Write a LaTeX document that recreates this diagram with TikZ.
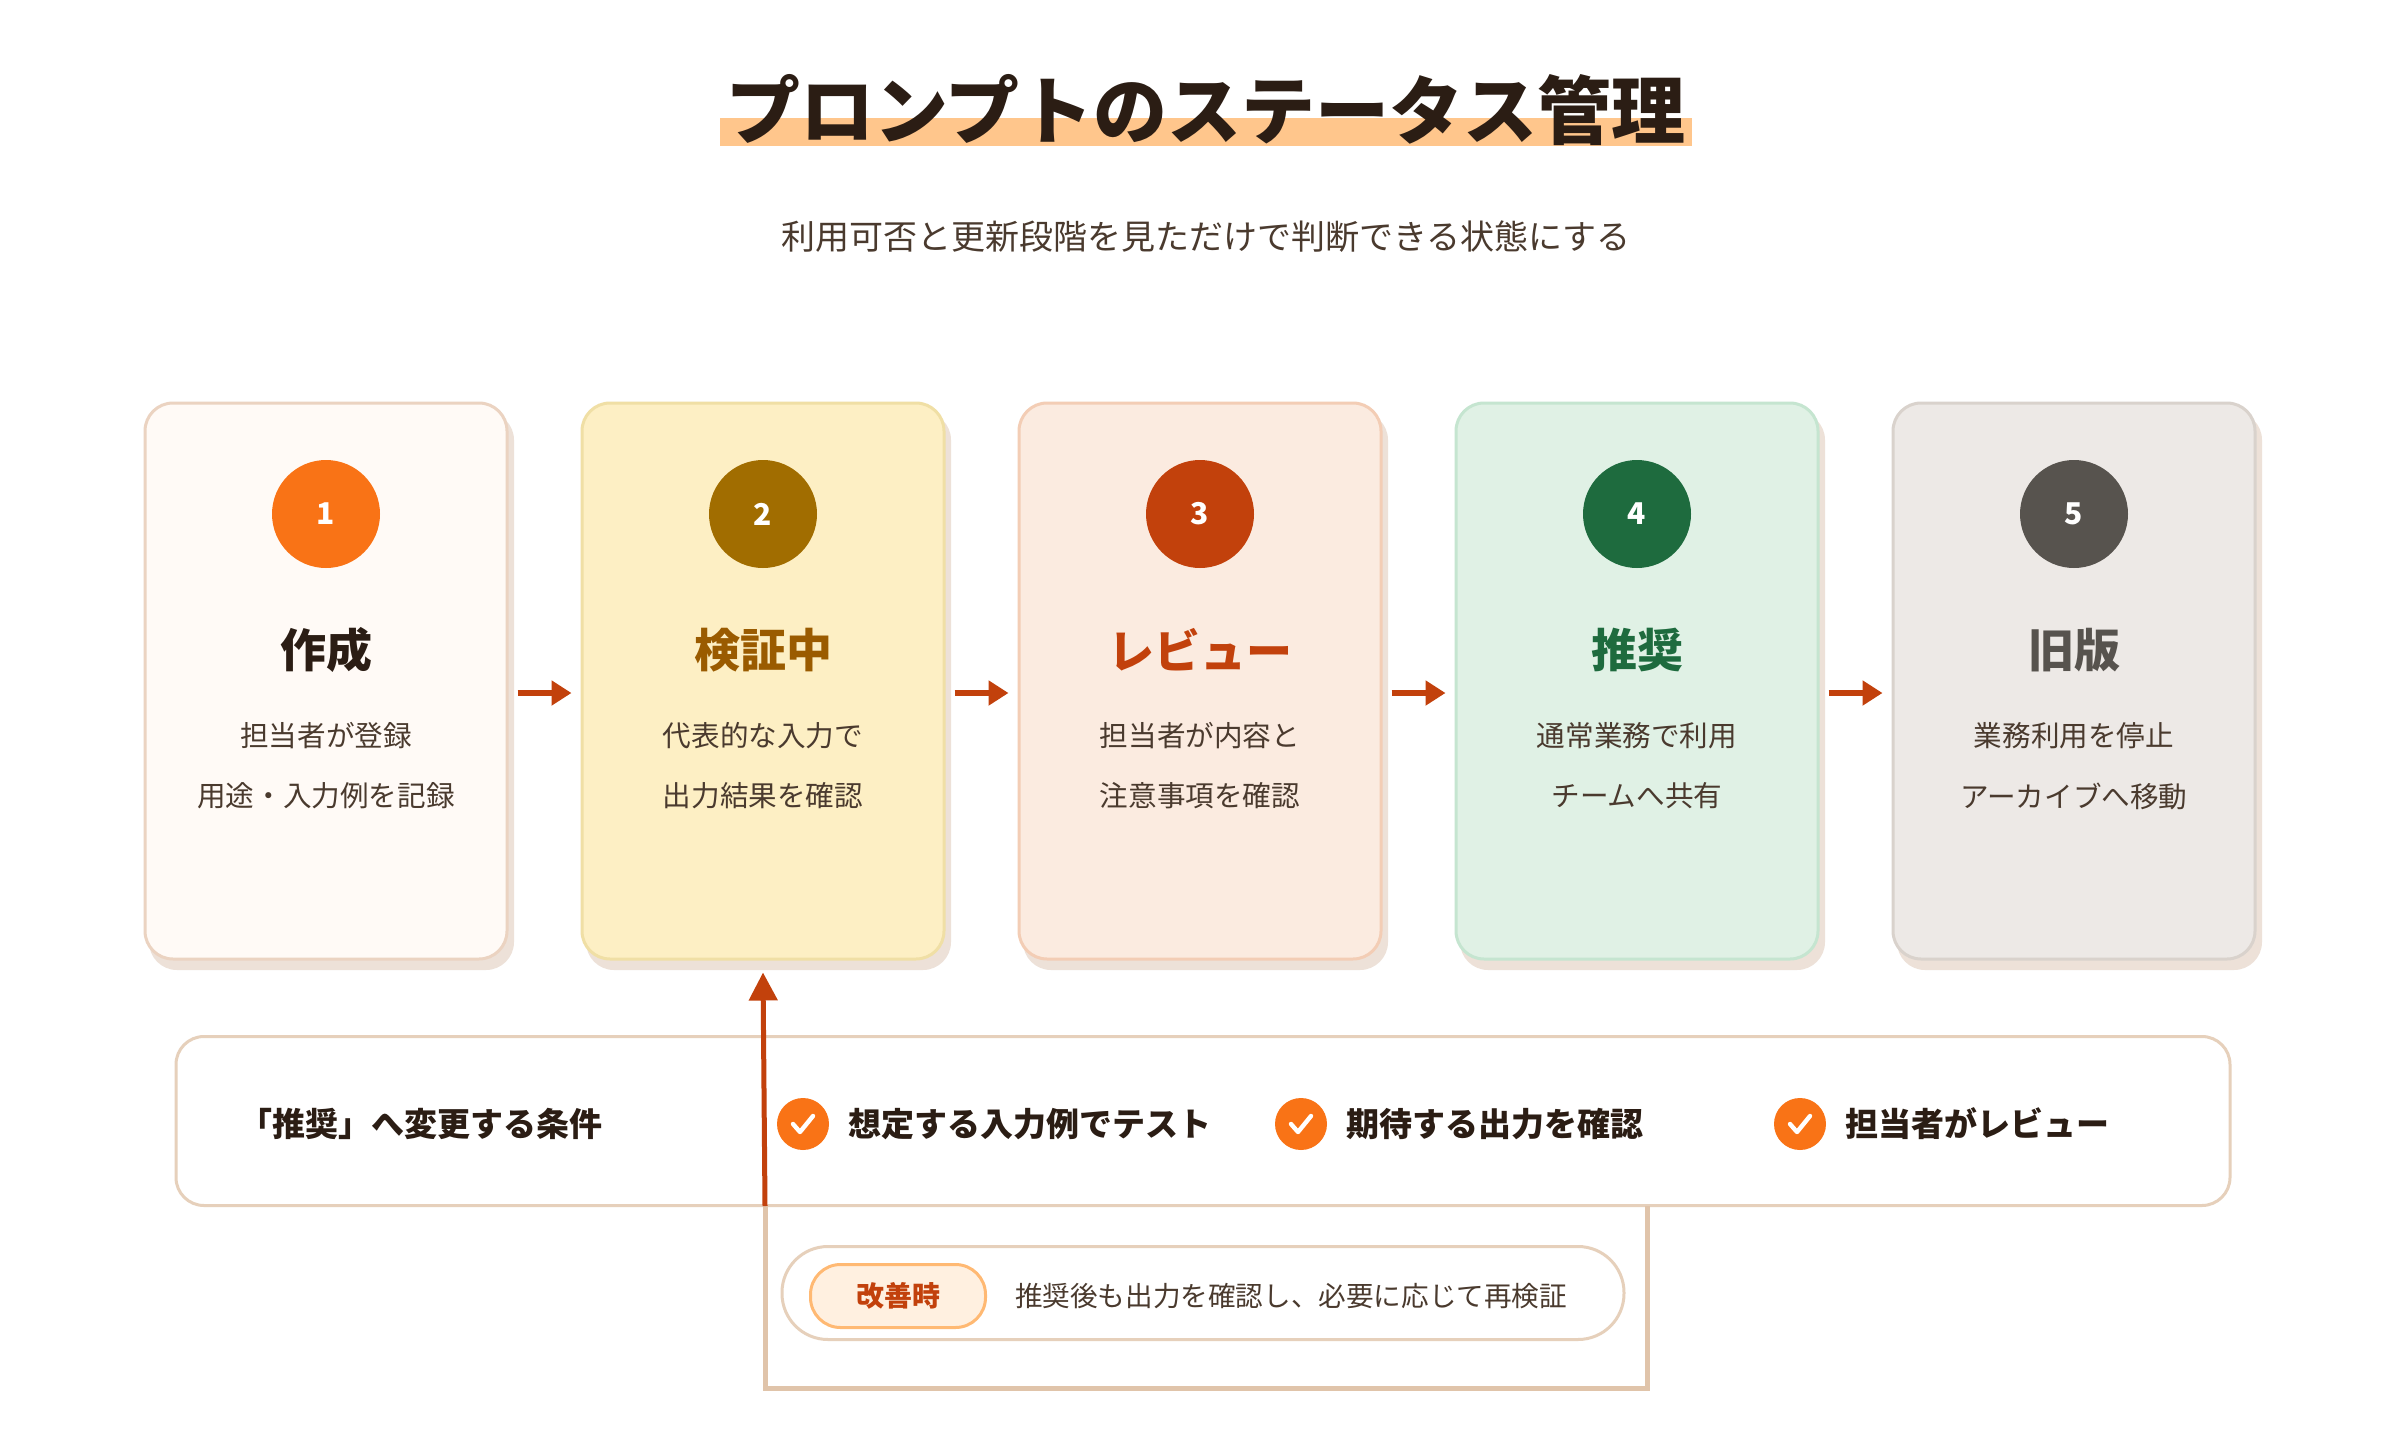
\documentclass[tikz,border=0pt]{standalone}
\usepackage{fontspec}
\setmainfont{Noto Sans CJK JP}
\usetikzlibrary{arrows.meta,calc}
\definecolor{ink}{HTML}{2B1D14}
\definecolor{txt}{HTML}{4A3A2E}
\definecolor{acc}{HTML}{C2410C}
\definecolor{tan}{HTML}{E0C4AA}
\definecolor{shad}{HTML}{EDE1D8}
\definecolor{c1}{HTML}{F97316}
\tikzset{
 x=0.5pt,y=-0.5pt,
 card/.style={draw=#1,line width=1.5pt,rounded corners=14pt,minimum width=181pt,minimum height=278pt},
 num/.style={circle,fill=#1,minimum size=54pt,inner sep=0,text=white,font=\fontsize{15}{15}\selectfont\bfseries},
 ctitle/.style={text=#1,font=\fontsize{23}{23}\selectfont\bfseries},
 desc/.style={text=txt,font=\fontsize{14.3}{14.3}\selectfont},
 flow/.style={acc,line width=2.8pt,-{Triangle[length=10pt,width=12pt]}},
 chk/.style={circle,fill=c1,minimum size=26pt,inner sep=0},
 ctext/.style={text=ink,anchor=west,font=\fontsize{16.5}{16.5}\selectfont\bfseries},
}
\begin{document}
\begin{tikzpicture}
\useasboundingbox (0,0) rectangle (2400,1440);
\fill[white] (0,0) rectangle (2400,1440);
% title
\fill[orange!45!white] (720,118) rectangle (1692,146);
\node[text=ink,font=\fontsize{37}{37}\selectfont\bfseries] (title) at (1206,110) {プロンプトのステータス管理};
\node[text=txt,font=\fontsize{17}{17}\selectfont] (sub) at (1206,237) {利用可否と更新段階を見ただけで判断できる状態にする};
% cards
\foreach \i/\fc/\bc/\cc/\tc/\t/\a/\b in {
 1/FFFAF6/EBD3C1/F97316/2B1D14/作成/担当者が登録/用途・入力例を記録,
 2/FDEFC4/F0DFA5/A16D00/9A5B00/検証中/代表的な入力で/出力結果を確認,
 3/FBEBE0/F3CDB5/C2410C/C2410C/レビュー/担当者が内容と/注意事項を確認,
 4/E0F1E5/C5E5D0/1E6B3E/1E6B3E/推奨/通常業務で利用/チームへ共有,
 5/EDE9E6/D9D2CC/57534E/57534E/旧版/業務利用を停止/アーカイブへ移動}{
 \definecolor{fc}{HTML}{\fc}\definecolor{bc}{HTML}{\bc}\definecolor{cc}{HTML}{\cc}\definecolor{tc}{HTML}{\tc}
 \pgfmathsetmacro{\cx}{326+440*(\i-1)-3*(\i-1)}
 \fill[shad,rounded corners=14pt] (\cx-177,412) rectangle (\cx+188,970);
 \node[card=bc,fill=fc] (card\i) at (\cx,681) {};
 \node[num=cc] (n\i) at (\cx,514) {\i};
 \node[ctitle=tc] (t\i) at (\cx,650) {\t};
 \node[desc] (da\i) at (\cx,736) {\a};
 \node[desc] (db\i) at (\cx,796) {\b};
}
\foreach \i [count=\j from 2] in {1,...,4}{
 \draw[flow] ($(card\i.east)+(9,12)$) -- ($(card\j.west)+(-9,12)$);
}
% conditions box
\node[draw=tan!80!white,line width=1.5pt,rounded corners=14pt,fill=white,minimum width=1027pt,minimum height=84.5pt] (cond) at (1203,1121) {};
\node[text=ink,anchor=west,font=\fontsize{16.5}{16.5}\selectfont\bfseries] (condl) at (232,1124) {「推奨」へ変更する条件};
\foreach \k/\x/\s in {1/803/想定する入力例でテスト,2/1301/期待する出力を確認,3/1800/担当者がレビュー}{
 \node[chk] (ck\k) at (\x,1124) {};
 \draw[white,line width=2.2pt,line cap=round,line join=round] ($(ck\k)+(-10,0)$) -- ($(ck\k)+(-3,8)$) -- ($(ck\k)+(10,-8)$);
 \node[ctext] (ct\k) at (\x+38,1124) {\s};
}
% feedback loop
\coordinate (fb1) at (1647,1206);
\coordinate (fb2) at (1647,1388);
\coordinate (fb3) at (765,1388);
\coordinate (fb4) at (765,1206);
\draw[tan,line width=2.5pt] (fb1) -- (fb2) -- (fb3) -- (fb4);
\draw[acc,line width=2.5pt,-{Triangle[length=14pt,width=14pt]}] (fb4) -- ($(card2.south)+(0,12)$);
% note pill
\node[draw=tan!80!white,line width=1.5pt,fill=white,rounded corners=23pt,minimum width=421pt,minimum height=46.5pt] (note) at (1203,1293) {};
\node[draw=orange!55!white,line width=1.5pt,fill=orange!12!white,rounded corners=15pt,minimum width=87.5pt,minimum height=31.5pt,text=acc,font=\fontsize{14}{14}\selectfont\bfseries] (tag) at (898,1296) {改善時};
\node[text=txt,anchor=west,font=\fontsize{13.8}{13.8}\selectfont] (notet) at (1008,1296) {推奨後も出力を確認し、必要に応じて再検証};
\end{tikzpicture}
\end{document}
